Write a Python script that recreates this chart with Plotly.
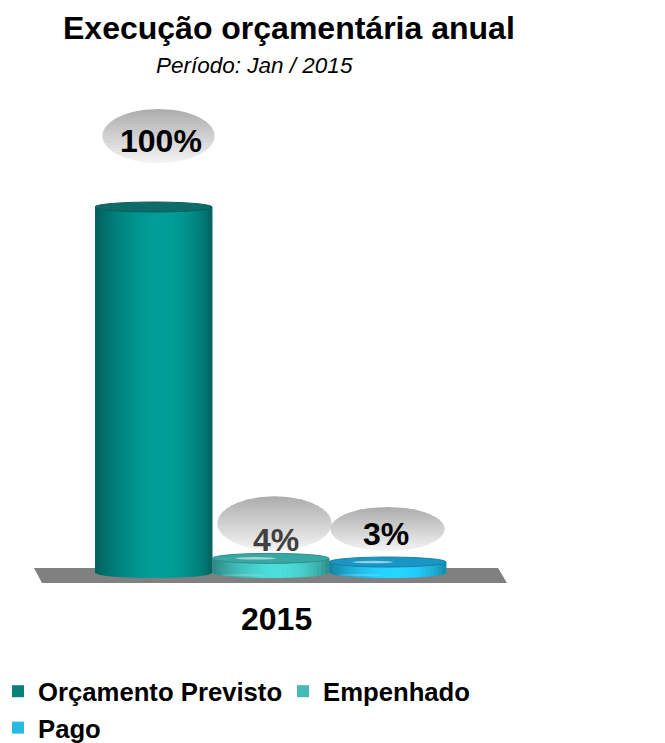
import numpy as np
import plotly.graph_objects as go

# ---------------- data ----------------
title_text = "Execução orçamentária anual"
subtitle_text = "Período: Jan / 2015"
category = "2015"
series = ["Orçamento Previsto", "Empenhado", "Pago"]
values = [100, 4, 3]

# ---------------- styles ----------------
colors = ["#0a807c", "#46bab7", "#26b9e1"]           # legend / base colours
body_rgb = [(0, 134, 129), (64, 188, 185), (30, 182, 224)]
cap_rgb = [(14, 108, 104), (56, 168, 165), (26, 150, 196)]
label_colors = ["#000000", "#404040", "#000000"]
label_shift = [66, 18, 28]          # px above bar top (text centre)
label_dx = [7, 5, -2]
bubble_shift = [71, 35, 33]         # px above bar top (bubble centre)
bubble_dx = [5, 4, 0]
bubble_r = [(56, 27), (57, 27), (57, 22)]
FONT = "Liberation Sans, Arial, sans-serif"

W, H = 665, 743
XOFF, YOFF = 8, 8   # page (body) offset of the figure
PX_PER_X = 117.0
PX_PER_Y = 3.66
X0_PX = 153.5 - XOFF      # pixel centre of first bar (figure coords)
Y0_PX = 573.0 - YOFF      # pixel of value 0

x_min = -X0_PX / PX_PER_X
x_max = x_min + W / PX_PER_X
y_max = Y0_PX / PX_PER_Y
y_min = -(H - Y0_PX) / PX_PER_Y

def px(xp):
    return (xp - XOFF) / W

def py(yp):
    return 1 - (yp - YOFF) / H

fig = go.Figure()
for i, (name, v, c) in enumerate(zip(series, values, colors)):
    fig.add_trace(go.Bar(
        x=[i], y=[v], width=[0.999], name=f"<b>{name}</b>",
        marker=dict(color=c, line=dict(width=0)),
        hovertemplate=f"{name}: {v}%<extra></extra>",
    ))

shapes = []
# floor
shapes.append(dict(
    type="path", xref="paper", yref="paper", layer="below",
    path=f"M {px(34)},{py(568)} L {px(498)},{py(568)} L {px(507)},{py(583)} L {px(42)},{py(583)} Z",
    fillcolor="#808080", line=dict(width=0)))

def shade(t):
    s = np.sin(np.pi * t ** 1.2)
    return 0.70 + 0.48 * s ** 0.7

def rgb(c, f):
    return "rgb(%d,%d,%d)" % tuple(min(255, int(round(k * f))) for k in c)

eh = 5.0 / PX_PER_Y   # ellipse half height in data units
N = 30
for i, v in enumerate(values):
    base = body_rgb[i]
    def yb(t):
        return -eh * np.sqrt(max(0.0, 1 - (2 * t - 1) ** 2))
    for j in range(N):
        t0, t1 = j / N, (j + 1) / N
        xa, xb = i - 0.5 + t0, i - 0.5 + t1
        f = shade((t0 + t1) / 2)
        shapes.append(dict(
            type="path", xref="x", yref="y",
            path=f"M {xa},{v} L {xb + 0.004},{v} L {xb + 0.004},{yb(t1)} L {xa},{yb(t0)} Z",
            fillcolor=rgb(base, f), line=dict(width=0)))
    # top cap
    shapes.append(dict(type="circle", xref="x", yref="y",
                       x0=i - 0.5, x1=i + 0.5, y0=v - eh, y1=v + eh,
                       fillcolor=rgb(cap_rgb[i], 1.0),
                       line=dict(color=rgb(cap_rgb[i], 0.85), width=1)))
    if i > 0:
        # glossy highlight on small discs
        shapes.append(dict(type="circle", xref="x", yref="y",
                           x0=i - 0.3, x1=i + 0.05, y0=v - eh * 0.25, y1=v + eh * 0.25,
                           fillcolor="rgba(255,255,255,0.55)", line=dict(width=0)))
        shapes.append(dict(type="circle", xref="x", yref="y",
                           x0=i - 0.42, x1=i - 0.05, y0=-eh * 0.55, y1=-eh * 0.25,
                           fillcolor="rgba(255,255,255,0.25)", line=dict(width=0)))

# label bubbles (gradient ellipses anchored to bar tops)
K = 18
for i, v in enumerate(values):
    rx, ry = bubble_r[i]
    cy = bubble_shift[i]
    dx = bubble_dx[i]
    for k in range(K):
        ya = ry - 2 * ry * k / K
        yb_ = max(-ry, ry - 2 * ry * (k + 1) / K - 0.8)
        ys = np.linspace(ya, yb_, 6)
        xs = rx * np.sqrt(np.clip(1 - (ys / ry) ** 2, 0, 1))
        pts = [(x, y) for x, y in zip(xs, ys)] + [(-x, y) for x, y in zip(xs[::-1], ys[::-1])]
        path = "M " + " L ".join(f"{x + dx:.2f},{y + cy:.2f}" for x, y in pts) + " Z"
        g = int(round(172 + (244 - 172) * (k + 0.5) / K))
        shapes.append(dict(type="path", xref="x", yref="y",
                           xsizemode="pixel", ysizemode="pixel",
                           xanchor=i, yanchor=v, path=path,
                           fillcolor=f"rgb({g},{g},{g})", line=dict(width=0)))

annotations = [
    dict(text=f"<b>{title_text}</b>", x=px(289), y=py(28), xref="paper", yref="paper",
         xanchor="center", yanchor="middle",
         showarrow=False, font=dict(family=FONT, size=32, color="#000000")),
    dict(text=f"<i>{subtitle_text}</i>", x=px(254.5), y=py(66), xref="paper", yref="paper",
         xanchor="center", yanchor="middle",
         showarrow=False, font=dict(family=FONT, size=22.5, color="#000000")),
    dict(text=f"<b>{category}</b>", x=px(276), y=py(619), xref="paper", yref="paper",
         xanchor="center", yanchor="middle",
         showarrow=False, font=dict(family=FONT, size=32, color="#000000")),
]
for i, v in enumerate(values):
    annotations.append(dict(
        text=f"<b>{v}%</b>", x=i, y=v, xref="x", yref="y",
        yshift=label_shift[i], xshift=label_dx[i],
        xanchor="center", yanchor="middle",
        showarrow=False, font=dict(family=FONT, size=32, color=label_colors[i])))

fig.update_layout(
    width=W, height=H,
    margin=dict(l=0, r=0, t=0, b=0, autoexpand=False),
    paper_bgcolor="white", plot_bgcolor="white",
    barmode="overlay", bargap=0,
    xaxis=dict(range=[x_min, x_max], visible=False, fixedrange=True),
    yaxis=dict(range=[y_min, y_max], visible=False, fixedrange=True),
    shapes=shapes, annotations=annotations,
    showlegend=True,
    legend=dict(orientation="h", x=0, y=0, xanchor="left", yanchor="bottom",
                entrywidth=250, entrywidthmode="pixels", indentation=-10,
                font=dict(family=FONT, size=25.7, color="#000000"),
                bgcolor="rgba(0,0,0,0)", itemclick=False, itemdoubleclick=False,
                tracegroupgap=0),
    font=dict(family=FONT),
)

fig.write_html("out.html")
